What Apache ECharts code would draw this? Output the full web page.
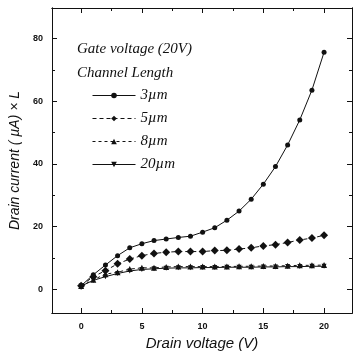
<!DOCTYPE html>
<html>
<head>
<meta charset="utf-8">
<script src="https://cdn.jsdelivr.net/npm/echarts@6/dist/echarts.min.js"></script>
<style>
  html, body { margin: 0; padding: 0; background: #fff; }
  #chart { width: 353px; height: 361px; }
</style>
</head>
<body>
<div id="chart"></div>
<script>
// drain voltage (V)
const drainVoltage = [0, 1, 2, 3, 4, 5, 6, 7, 8, 9, 10, 11, 12, 13, 14, 15, 16, 17, 18, 19, 20]

// drain current x L, one array per channel length
const current3um = [1.1, 4.6, 7.7, 10.7, 13.2, 14.5, 15.5, 16.0, 16.5, 16.9, 18.2, 19.6, 22.0, 24.9, 28.7, 33.5, 39.1, 46.0, 54.0, 63.5, 75.6]
const current5um = [1.1, 4.0, 5.9, 8.1, 9.6, 10.7, 11.4, 11.8, 12.0, 12.0, 12.0, 12.3, 12.4, 12.8, 13.2, 13.8, 14.2, 14.9, 15.7, 16.3, 17.2]
const current8um = [1.0, 3.0, 4.8, 5.4, 6.4, 6.8, 6.8, 7.1, 7.2, 7.2, 7.2, 7.2, 7.2, 7.3, 7.3, 7.4, 7.4, 7.5, 7.6, 7.6, 7.7]
const current20um = [1.0, 2.8, 4.0, 5.0, 5.8, 6.3, 6.5, 6.7, 6.8, 6.8, 6.9, 6.9, 7.0, 7.0, 7.0, 7.1, 7.1, 7.2, 7.2, 7.3, 7.3]

const seriesNames = ['3\u00b5m', '5\u00b5m', '8\u00b5m', '20\u00b5m']

// tick positions
const xMajorTicks = [0, 5, 10, 15, 20]
const xMinorTicks = [-2.5, 2.5, 7.5, 12.5, 17.5, 22.5]
const yMajorTicks = [0, 20, 40, 60, 80]
const yMinorTicks = [-10, 10, 30, 50, 70, 90]

const xRange = [-2.4, 22.3]
const yRange = [-7.6, 89.7]

const black = '#111'

const pairs = (ys) => drainVoltage.map((x, i) => [x, ys[i]])

// one axis per tick set, so major and minor ticks can have different lengths
const makeAxis = (pos, range, ticks, len, withLabels) => ({
  type: 'value',
  position: pos,
  min: range[0],
  max: range[1],
  splitLine: { show: false },
  axisLine: { show: true, onZero: false, lineStyle: { color: black, width: 1 } },
  axisTick: { show: true, inside: true, length: len, customValues: ticks, lineStyle: { color: black } },
  axisLabel: withLabels
    ? {
        show: true,
        customValues: ticks,
        color: black,
        fontFamily: 'Liberation Sans',
        fontWeight: 'bold',
        fontSize: 9,
        margin: 9,
      }
    : { show: false },
})

const chart = echarts.init(document.getElementById('chart'))

chart.setOption({
  animation: false,
  grid: { left: 52, right: 1, top: 8, bottom: 48, containLabel: false },
  xAxis: [
    {
      ...makeAxis('bottom', xRange, xMajorTicks, 5, true),
      name: 'Drain voltage (V)',
      nameLocation: 'middle',
      nameGap: 19,
      nameTextStyle: { fontFamily: 'Liberation Sans', fontStyle: 'italic', fontSize: 15, color: black },
    },
    makeAxis('bottom', xRange, xMinorTicks, 3, false),
    makeAxis('top', xRange, xMajorTicks, 5, false),
    makeAxis('top', xRange, xMinorTicks, 3, false),
  ],
  yAxis: [
    {
      ...makeAxis('left', yRange, yMajorTicks, 5, true),
      name: 'Drain current ( \u00b5A) \u00d7 L',
      nameLocation: 'middle',
      nameGap: 26,
      nameTextStyle: { fontFamily: 'Liberation Sans', fontStyle: 'italic', fontSize: 14, color: black },
    },
    makeAxis('left', yRange, yMinorTicks, 3, false),
    makeAxis('right', yRange, yMajorTicks, 5, false),
    makeAxis('right', yRange, yMinorTicks, 3, false),
  ],
  graphic: [
    {
      type: 'text',
      left: 77,
      top: 42,
      style: { text: 'Gate voltage (20V)', fontFamily: 'Liberation Serif', fontStyle: 'italic', fontSize: 15, fill: black },
    },
    {
      type: 'text',
      left: 77,
      top: 66,
      style: { text: 'Channel Length', fontFamily: 'Liberation Serif', fontStyle: 'italic', fontSize: 15, fill: black },
    },
  ],
  legend: {
    orient: 'vertical',
    left: 92,
    top: 88,
    padding: 0,
    itemWidth: 43,
    itemHeight: 7,
    itemGap: 8,
    data: seriesNames,
    lineStyle: { width: 1 },
    textStyle: { fontFamily: 'Liberation Serif', fontStyle: 'italic', fontSize: 15, color: black, lineHeight: 14 },
  },
  series: [
    {
      name: seriesNames[0],
      type: 'line',
      data: pairs(current3um),
      symbol: 'circle',
      symbolSize: 5,
      itemStyle: { color: black },
      lineStyle: { color: black, width: 1 },
    },
    {
      name: seriesNames[1],
      type: 'line',
      data: pairs(current5um),
      symbol: 'diamond',
      symbolSize: 8,
      itemStyle: { color: black },
      lineStyle: { color: black, width: 1, type: [4, 3] },
    },
    {
      name: seriesNames[2],
      type: 'line',
      data: pairs(current8um),
      symbol: 'triangle',
      symbolSize: 6,
      itemStyle: { color: black },
      lineStyle: { color: black, width: 1, type: [3, 3] },
    },
    {
      name: seriesNames[3],
      type: 'line',
      data: pairs(current20um),
      symbol: 'path://M0,0L10,0L5,9Z',
      symbolSize: 5,
      itemStyle: { color: black },
      lineStyle: { color: black, width: 1 },
    },
  ],
})
</script>
</body>
</html>
